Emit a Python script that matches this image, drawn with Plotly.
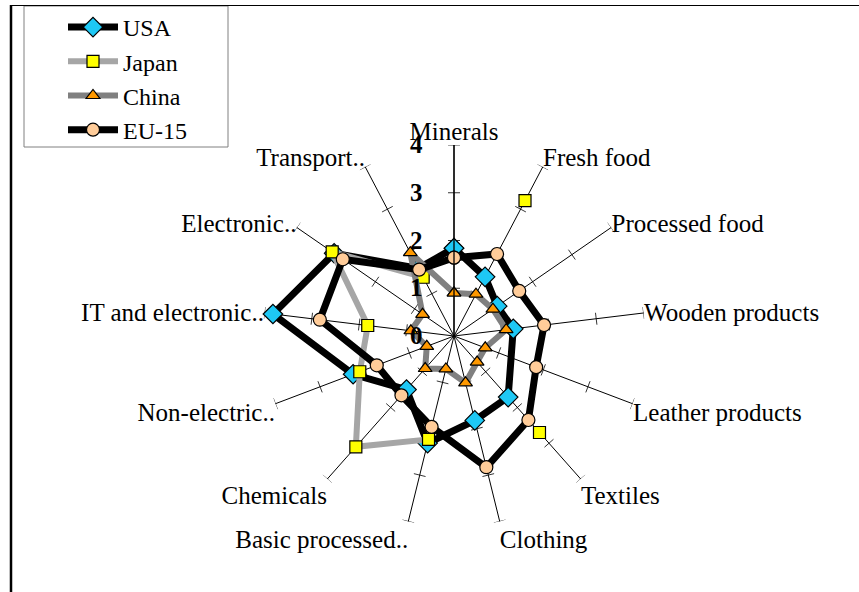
import numpy as np
import plotly.graph_objects as go

categories = ["Minerals", "Fresh food", "Processed food", "Wooden products",
              "Leather products", "Textiles", "Clothing", "Basic processed..",
              "Chemicals", "Non-electric..", "IT and electronic..",
              "Electronic..", "Transport.."]

usa = [1.84, 1.40, 1.10, 1.25, None, 1.71, 1.82, 2.31, 1.50, 2.26, 3.82, 3.05, 1.60]
japan = [None, 3.20, None, None, None, 2.70, None, 2.23, 3.10, 2.11, 1.82, 3.10, 1.39]
china = [0.90, 0.99, 0.99, 1.10, 0.70, 0.73, 1.01, 0.71, 0.91, 0.61, 0.91, 0.80, 1.97]
eu15 = [1.64, 1.94, 1.66, 1.90, 1.84, 2.35, 2.83, 1.96, 1.66, 1.73, 2.83, 2.83, 1.57]

radial_ticks = [0, 1, 2, 3, 4]

n = len(categories)
angles = [i * 360.0 / n for i in range(n)]
serif = "'Liberation Serif', 'Times New Roman', serif"

fig = go.Figure()

# little cross ticks on every spoke
unit_px = 191 / 4.0
half = 6.0
tr, tt = [], []
for a in angles:
    for v in radial_ticks[1:]:
        d = np.degrees(np.arctan(half / (v * unit_px)))
        rr = v / np.cos(np.radians(d))
        tr += [rr, rr, None]
        tt += [a - d, a + d, None]
fig.add_trace(go.Scatterpolar(r=tr, theta=tt, mode="lines", cliponaxis=False,
                              line=dict(color="black", width=0.8),
                              showlegend=False, hoverinfo="skip"))

series = [
    ("USA", usa, "black", 7, "diamond", "#1ec8f5", 15, True),
    ("Japan", japan, "#a6a6a6", 6, "square", "#ffff00", 12, False),
    ("China", china, "#808080", 6, "triangle-up", "#ff9900", 12, True),
    ("EU-15", eu15, "black", 7, "circle", "#ffcc99", 13, True),
]
for name, vals, lc, lw, sym, mc, ms, cg in series:
    fig.add_trace(go.Scatterpolar(
        r=vals + [vals[0]], theta=angles + [angles[0]], name=name,
        mode="lines+markers", connectgaps=cg, cliponaxis=False,
        line=dict(color=lc, width=lw),
        marker=dict(symbol=sym, color=mc, size=ms, line=dict(color="black", width=1.2))))

fig.update_layout(
    width=859, height=592,
    margin=dict(l=0, r=0, t=0, b=0),
    paper_bgcolor="white", plot_bgcolor="white",
    font=dict(family=serif, size=25, color="black"),
    polar=dict(
        domain=dict(x=[263 / 859, 645 / 859], y=[65 / 592, 447 / 592]),
        bgcolor="white",
        angularaxis=dict(
            type="linear", thetaunit="degrees",
            direction="clockwise", rotation=90, tickmode="array",
            tickvals=angles, ticktext=categories,
            showline=False, showgrid=True, gridcolor="black", gridwidth=0.7,
            ticks="", tickfont=dict(family=serif, size=25)),
        radialaxis=dict(
            range=[0, 4], angle=90, side="counterclockwise", tickangle=90,
            tickvals=radial_ticks, showgrid=False, showline=True,
            linecolor="black", linewidth=1.3,
            ticks="outside", ticklen=22, tickcolor="rgba(0,0,0,0)",
            tickfont=dict(family=serif, size=25, weight="bold")),
    ),
    legend=dict(x=63 / 859, y=1 - 5 / 592, xanchor="left", yanchor="top",
                bgcolor="rgba(0,0,0,0)", borderwidth=0,
                font=dict(family=serif, size=24), itemwidth=50),
    shapes=[dict(type="rect", xref="paper", yref="paper", x0=24 / 859, x1=228 / 859,
                 y0=1 - 147 / 592, y1=1 - 6 / 592, fillcolor="white",
                 line=dict(color="#808080", width=1), layer="below"),
            dict(type="line", xref="paper", yref="paper", x0=11 / 859, x1=11 / 859,
                 y0=0, y1=1 - 5 / 592, line=dict(color="black", width=2.5)),
            dict(type="line", xref="paper", yref="paper", x0=11 / 859, x1=1,
                 y0=1 - 5.5 / 592, y1=1 - 5.5 / 592, line=dict(color="black", width=1.2))],
)

fig.write_html("out.html", config={"displayModeBar": False},
               post_script="document.body.style.margin='0';")
